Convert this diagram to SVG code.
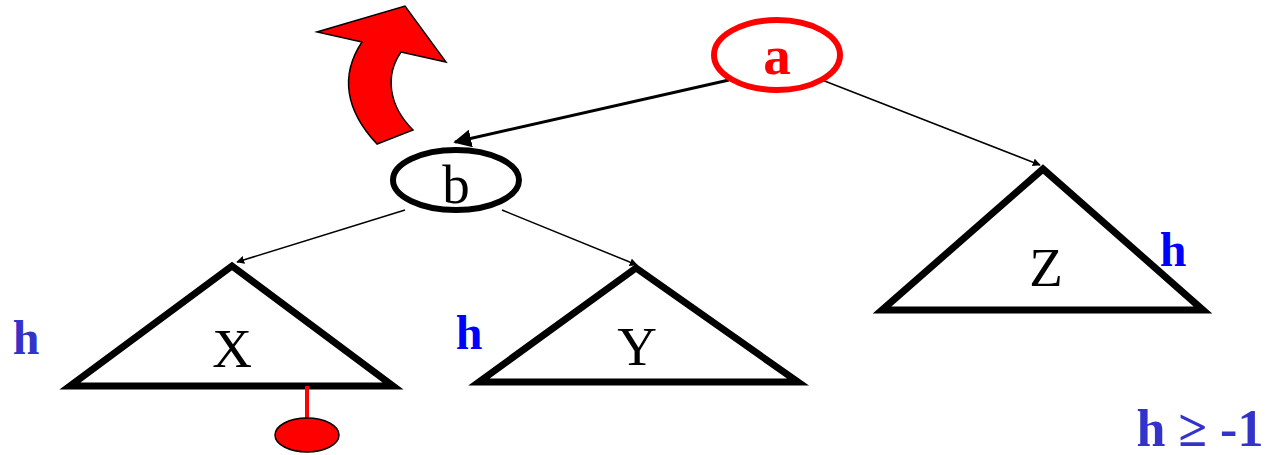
<svg xmlns="http://www.w3.org/2000/svg" width="1268" height="455" viewBox="0 0 1268 455">
<style>
.tri{fill:none;stroke:#000;stroke-width:7;stroke-linejoin:miter}
.lbl{font-family:"Liberation Serif",serif;font-size:55px;text-anchor:middle}
.h{font-family:"Liberation Serif",serif;font-size:48px;font-weight:bold;text-anchor:middle}
.e{stroke:#000;fill:none}
</style>
<defs>
<marker id="ah" viewBox="0 0 10 10" refX="9" refY="5" markerWidth="8" markerHeight="8" markerUnits="userSpaceOnUse" orient="auto"><path d="M0,0 L10,5 L0,10 z" fill="#000"/></marker>
<marker id="ah2" viewBox="0 0 10 10" refX="9" refY="5" markerWidth="6" markerHeight="6" markerUnits="strokeWidth" orient="auto"><path d="M0,0 L10,5 L0,10 z" fill="#000"/></marker>
</defs>
<g id="connectors">
<line class="e" x1="729" y1="80" x2="455" y2="142" stroke-width="3" marker-end="url(#ah2)"/>
<line class="e" x1="822" y1="80" x2="1040" y2="165" stroke-width="1.5" marker-end="url(#ah)"/>
<line class="e" x1="405" y1="210" x2="237" y2="262" stroke-width="1.5" marker-end="url(#ah)"/>
<line class="e" x1="502" y1="210" x2="637" y2="265" stroke-width="1.5" marker-end="url(#ah)"/>
</g>
<g id="rotate-arrow">
<path d="M377,144 C345,110 340,75 362,42 L317,32 L405,6 L446,62 L401,52 C385,75 388,105 413,130 Z" fill="#ff0000" stroke="#000" stroke-width="1.5" stroke-linejoin="miter"/>
</g>
<g id="node-a">
<ellipse cx="777" cy="55" rx="63" ry="35" fill="#fff" stroke="#ff0000" stroke-width="6"/>
<text x="777" y="74" class="lbl" fill="#ff0000" font-weight="bold">a</text>
</g>
<g id="node-b">
<ellipse cx="456" cy="180" rx="63" ry="30" fill="#fff" stroke="#000" stroke-width="6"/>
<text x="456" y="203" class="lbl">b</text>
</g>
<g id="tree-X">
<polygon class="tri" points="232,266 70,386 393,386"/>
<text x="232" y="367" class="lbl">X</text>
</g>
<g id="tree-Y">
<polygon class="tri" points="636,268 479,382 798,382"/>
<text x="637" y="365" class="lbl">Y</text>
</g>
<g id="tree-Z">
<polygon class="tri" points="1043,169 882,310 1203,310"/>
<text x="1046" y="286" class="lbl">Z</text>
</g>
<g id="inserted">
<line x1="307" y1="386" x2="307" y2="419" stroke="#ff0000" stroke-width="4"/>
<ellipse cx="307" cy="435" rx="32" ry="17" fill="#ff0000" stroke="#000" stroke-width="1.5"/>
</g>
<g id="labels">
<text x="26" y="354" class="h" fill="#3333cc">h</text>
<text x="469" y="349" class="h" fill="#0000ff">h</text>
<text x="1173" y="266" class="h" fill="#0000ff">h</text>
<text x="1200" y="446" class="h" fill="#3333cc" style="font-size:52px">h ≥ -1</text>
</g>
</svg>
